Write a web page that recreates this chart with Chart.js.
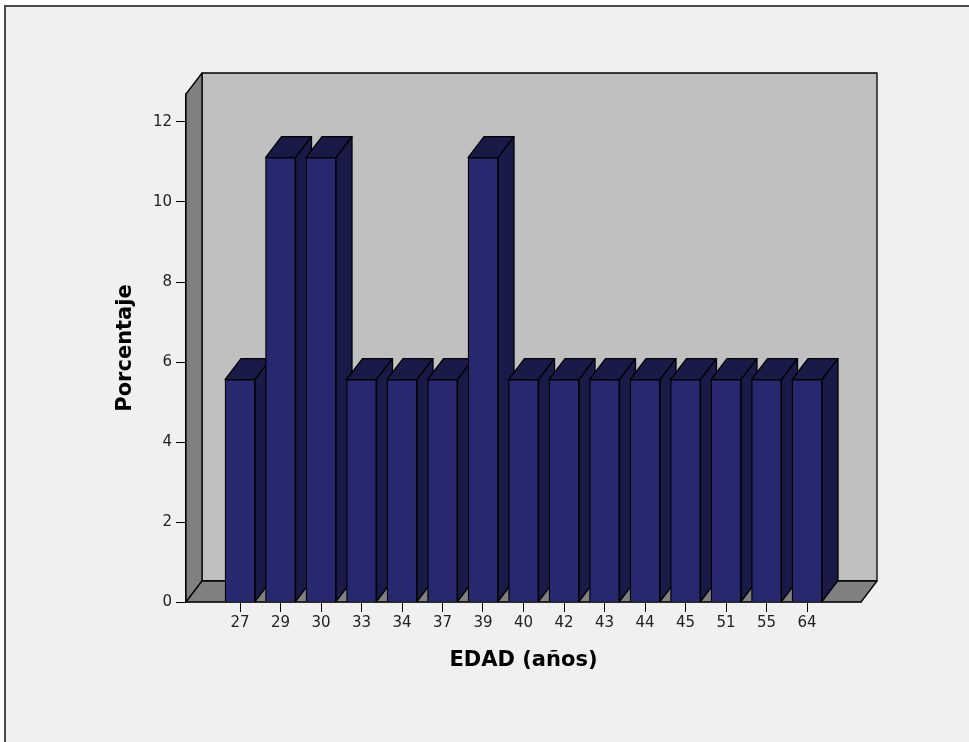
<!DOCTYPE html>
<html>
<head>
<meta charset="utf-8">
<script src="https://cdn.jsdelivr.net/npm/chart.js@4.4.1/dist/chart.umd.min.js"></script>
<style>
  html, body { margin: 0; padding: 0; background: #ffffff; overflow: hidden; }
  #frame {
    position: absolute; left: 4px; top: 5px; width: 980px; height: 760px;
    background: #f0f0f0; border-left: 2px solid #4a4a4a; border-top: 2px solid #4a4a4a;
  }
  #chart { position: absolute; left: 0; top: 0; }
</style>
</head>
<body>
<div id="frame"></div>
<canvas id="chart" width="969" height="742"></canvas>
<script>
const ages = ["27", "29", "30", "33", "34", "37", "39", "40", "42", "43", "44", "45", "51", "55", "64"];
const percents = [5.56, 11.11, 11.11, 5.56, 5.56, 5.56, 11.11, 5.56, 5.56, 5.56, 5.56, 5.56, 5.56, 5.56, 5.56];
const yTicks = [0, 2, 4, 6, 8, 10, 12];

const DEPTH_X = 16;
const DEPTH_Y = 21;

// walls, floor and the top/side faces of each bar; the fronts are drawn by Chart.js
const box3d = {
  id: "box3d",
  beforeDatasetsDraw(chart) {
    const { ctx, chartArea: a } = chart;
    ctx.save();
    ctx.strokeStyle = "#000";
    ctx.lineWidth = 1.3;
    ctx.lineJoin = "round";
    const poly = (pts, fill) => {
      ctx.beginPath();
      ctx.moveTo(pts[0][0], pts[0][1]);
      for (const p of pts.slice(1)) ctx.lineTo(p[0], p[1]);
      ctx.closePath();
      ctx.fillStyle = fill;
      ctx.fill();
      ctx.stroke();
    };
    const bl = a.left + DEPTH_X, br = a.right + DEPTH_X;
    const bt = a.top - DEPTH_Y, bb = a.bottom - DEPTH_Y;
    poly([[bl, bt], [br, bt], [br, bb], [bl, bb]], "#c0c0c0");
    poly([[a.left, a.top], [bl, bt], [bl, bb], [a.left, a.bottom]], "#808080");
    poly([[a.left, a.bottom], [bl, bb], [br, bb], [a.right, a.bottom]], "#808080");

    const meta = chart.getDatasetMeta(0);
    for (const bar of meta.data) {
      const { x, y, base, width } = bar.getProps(["x", "y", "base", "width"], true);
      const l = x - width / 2, r = x + width / 2;
      poly([[l, y], [l + DEPTH_X, y - DEPTH_Y], [r + DEPTH_X, y - DEPTH_Y], [r, y]], "#1a1a48");
      poly([[r, y], [r + DEPTH_X, y - DEPTH_Y], [r + DEPTH_X, base - DEPTH_Y], [r, base]], "#1a1a48");
    }
    ctx.restore();
  },
};

const tickFont = { family: "DejaVu Sans", size: 15 };
const titleFont = { family: "DejaVu Sans", size: 21, weight: "bold" };

new Chart(document.getElementById("chart").getContext("2d"), {
  type: "bar",
  data: {
    datasets: [
      {
        label: "Porcentaje",
        data: percents.map((v, i) => ({ x: i, y: v })),
        backgroundColor: "#27286f",
        borderColor: "#000",
        borderWidth: 1.3,
        barThickness: 30,
      },
    ],
  },
  options: {
    responsive: false,
    animation: false,
    devicePixelRatio: 1,
    layout: { padding: { left: 0, top: 94, right: 108, bottom: 0 } },
    plugins: { legend: { display: false }, tooltip: { enabled: false } },
    scales: {
      x: {
        type: "linear",
        offset: false,
        min: -4 / 3,
        max: 14 + 4 / 3,
        afterFit: (s) => { s.height = 140; },
        afterBuildTicks: (s) => { s.ticks = ages.map((_, i) => ({ value: i })); },
        ticks: {
          callback: (v) => ages[v],
          font: tickFont,
          color: "#222",
          padding: 2,
          maxRotation: 0,
        },
        grid: { offset: false, drawOnChartArea: false, drawTicks: true, tickLength: 10, color: "#000" },
        border: { display: true, color: "#000", width: 1.3 },
        title: {
          display: true,
          text: "EDAD (años)",
          font: titleFont,
          color: "#000",
          padding: { top: 0, bottom: 69 },
        },
      },
      y: {
        min: 0,
        max: 12.7,
        afterFit: (s) => { s.width = 186; },
        afterBuildTicks: (s) => { s.ticks = yTicks.map((v) => ({ value: v })); },
        ticks: { font: tickFont, color: "#222", padding: 4 },
        grid: { drawOnChartArea: false, drawTicks: true, tickLength: 10, color: "#000" },
        border: { display: true, color: "#000", width: 1.3 },
        title: {
          display: true,
          text: "Porcentaje",
          font: titleFont,
          color: "#000",
          padding: { top: 113, bottom: 0 },
        },
      },
    },
  },
  plugins: [box3d],
});
</script>
</body>
</html>
